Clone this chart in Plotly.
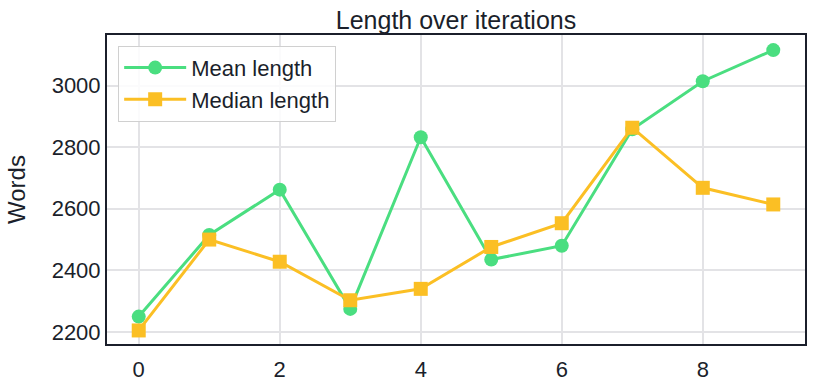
import plotly.graph_objects as go

iterations = [0, 1, 2, 3, 4, 5, 6, 7, 8, 9]
mean_length = [2250, 2515, 2662, 2275, 2832, 2435, 2480, 2858, 3014, 3115]
median_length = [2205, 2500, 2428, 2303, 2340, 2476, 2553, 2863, 2668, 2614]
y_ticks = [2200, 2400, 2600, 2800, 3000]
x_ticks = [0, 2, 4, 6, 8]

FONT = "Liberation Sans, Arial, sans-serif"
TXT = "#1b1f2b"

fig = go.Figure()
fig.add_trace(go.Scatter(
    x=iterations, y=mean_length, mode="lines+markers", name="Mean length",
    line=dict(color="#4ADE80", width=3),
    marker=dict(symbol="circle", size=14, color="#4ADE80"),
))
fig.add_trace(go.Scatter(
    x=iterations, y=median_length, mode="lines+markers", name="Median length",
    line=dict(color="#FBBF24", width=3),
    marker=dict(symbol="square", size=14, color="#FBBF24"),
))

fig.update_layout(
    width=814, height=391,
    margin=dict(l=107, r=9, t=35, b=47, autoexpand=False),
    paper_bgcolor="white", plot_bgcolor="white",
    font=dict(family=FONT, size=22, color=TXT),
    title=dict(text="Length over iterations", x=0.5, xref="paper", xanchor="center",
               y=1, yref="paper", yanchor="bottom", pad=dict(b=6), automargin=False,
               font=dict(size=25, color=TXT)),
    showlegend=True,
    legend=dict(x=0.016, y=0.965, xanchor="left", yanchor="top",
                bgcolor="rgba(255,255,255,0.85)", bordercolor="#d0d0d0", borderwidth=1,
                font=dict(size=22, color=TXT), itemwidth=62, tracegroupgap=0),
    xaxis=dict(range=[-0.45, 9.45], tickvals=x_ticks, showgrid=True, gridcolor="#e3e3e6",
               gridwidth=1.5, zeroline=False, showline=True, linecolor="#1b1f2b", linewidth=2,
               mirror=True, ticks="", automargin=False, ticklabelstandoff=5,
               tickfont=dict(size=22, color=TXT)),
    yaxis=dict(range=[2161, 3164], tickvals=y_ticks, showgrid=True, gridcolor="#e3e3e6",
               gridwidth=1.5, zeroline=False, showline=True, linecolor="#1b1f2b", linewidth=2,
               mirror=True, ticks="", automargin=False, tickfont=dict(size=22, color=TXT),
               title=dict(text="Words", font=dict(size=24, color=TXT), standoff=19)),
)

fig.write_html("out.html", config={"displayModeBar": False},
               post_script="document.body.style.margin='0';")
